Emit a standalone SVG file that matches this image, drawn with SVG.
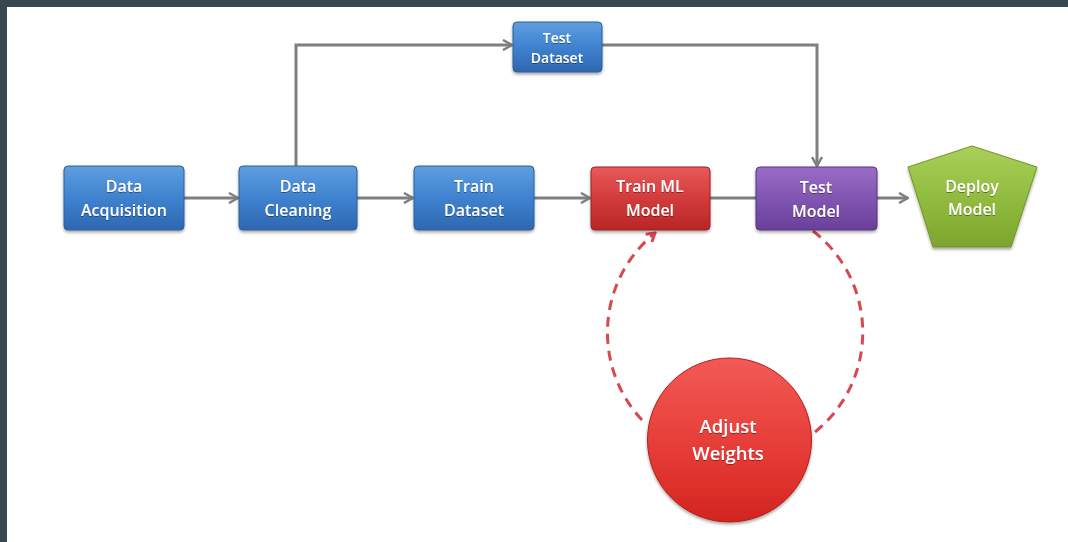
<svg xmlns="http://www.w3.org/2000/svg" width="1068" height="542" viewBox="0 0 1068 542">
<defs>
<linearGradient id="gBlue" x1="0" y1="0" x2="0" y2="1"><stop offset="0" stop-color="#5E9EE0"/><stop offset="0.5" stop-color="#3F82CF"/><stop offset="1" stop-color="#2D67B0"/></linearGradient>
<linearGradient id="gRed" x1="0" y1="0" x2="0" y2="1"><stop offset="0" stop-color="#E85A5A"/><stop offset="0.5" stop-color="#D33B3B"/><stop offset="1" stop-color="#B82626"/></linearGradient>
<linearGradient id="gPurple" x1="0" y1="0" x2="0" y2="1"><stop offset="0" stop-color="#9A6CC6"/><stop offset="0.5" stop-color="#8155B2"/><stop offset="1" stop-color="#68409A"/></linearGradient>
<linearGradient id="gGreen" x1="0" y1="0" x2="0" y2="1"><stop offset="0" stop-color="#A9D05A"/><stop offset="0.5" stop-color="#92BC40"/><stop offset="1" stop-color="#7DA52E"/></linearGradient>
<linearGradient id="gCircle" x1="0" y1="0" x2="0" y2="1"><stop offset="0" stop-color="#F25A55"/><stop offset="0.6" stop-color="#E53A35"/><stop offset="1" stop-color="#D2241E"/></linearGradient>
<filter id="sh" x="-20%" y="-20%" width="140%" height="150%"><feDropShadow dx="0" dy="2" stdDeviation="1.5" flood-color="#000" flood-opacity="0.35"/></filter>
<filter id="tsh" x="-10%" y="-10%" width="120%" height="130%"><feDropShadow dx="0" dy="1" stdDeviation="0.6" flood-color="#000" flood-opacity="0.4"/></filter>
<marker id="arr" viewBox="0 0 12 12" refX="11" refY="6" markerWidth="12" markerHeight="12" markerUnits="userSpaceOnUse" orient="auto"><path d="M2,1 L11,6 L2,11" fill="none" stroke="#7F7F7F" stroke-width="2.5"/></marker>
<marker id="arrR" viewBox="0 0 12 12" refX="10" refY="6" markerWidth="12" markerHeight="12" markerUnits="userSpaceOnUse" orient="auto"><path d="M2,1 L10,6 L2,11" fill="none" stroke="#D9474F" stroke-width="3"/></marker>
</defs>
<style>
.bl{fill:url(#gBlue);stroke:#2F5E98;stroke-width:1;filter:url(#sh)}
.rd{fill:url(#gRed);stroke:#9A2020;stroke-width:1;filter:url(#sh)}
.pu{fill:url(#gPurple);stroke:#56347F;stroke-width:1;filter:url(#sh)}
.t{font-family:"Open Sans","Liberation Sans",sans-serif;font-size:16px;font-weight:600;fill:#fff;text-anchor:middle;filter:url(#tsh)}
.ts{font-size:14px}
.tl{font-size:18.5px}
.c{fill:none;stroke:#7F7F7F;stroke-width:3}
.d{fill:none;stroke:#D9474F;stroke-width:3;stroke-dasharray:10 7}
</style>
<rect x="0" y="0" width="1068" height="542" fill="#fff"/>
<rect x="0" y="0" width="1068" height="7" fill="#37474F"/>
<rect x="0" y="0" width="7" height="542" fill="#37474F"/>

<g id="connectors">
<line class="c" x1="184" y1="198" x2="238" y2="198" marker-end="url(#arr)"/>
<line class="c" x1="357" y1="198" x2="413" y2="198" marker-end="url(#arr)"/>
<line class="c" x1="534" y1="198" x2="590" y2="198" marker-end="url(#arr)"/>
<line class="c" x1="710" y1="198" x2="756" y2="198"/>
<line class="c" x1="877" y1="198" x2="908" y2="198" marker-end="url(#arr)"/>
<polyline class="c" points="296,166 296,45 512,45" marker-end="url(#arr)"/>
<polyline class="c" points="602,45 817,45 817,166" marker-end="url(#arr)"/>
<path class="d" d="M642,420 A128,128 0 0 1 655,233" marker-end="url(#arrR)"/>
<path class="d" d="M813,231 A128,128 0 0 1 815,432"/>
</g>

<g id="data-acquisition">
<rect class="bl" x="64" y="166" width="120" height="64" rx="4"/>
<text class="t" x="124" y="192">Data</text>
<text class="t" x="124" y="216">Acquisition</text>
</g>
<g id="data-cleaning">
<rect class="bl" x="239" y="166" width="118" height="64" rx="4"/>
<text class="t" x="298" y="192">Data</text>
<text class="t" x="298" y="216">Cleaning</text>
</g>
<g id="train-dataset">
<rect class="bl" x="414" y="166" width="120" height="64" rx="4"/>
<text class="t" x="474" y="192">Train</text>
<text class="t" x="474" y="216">Dataset</text>
</g>
<g id="train-ml-model">
<rect class="rd" x="591" y="167" width="119" height="63" rx="4"/>
<text class="t" x="650" y="192">Train ML</text>
<text class="t" x="650" y="216">Model</text>
</g>
<g id="test-model">
<rect class="pu" x="756" y="167" width="121" height="63" rx="4"/>
<text class="t" x="816" y="193">Test</text>
<text class="t" x="816" y="217">Model</text>
</g>
<g id="test-dataset">
<rect class="bl" x="513" y="22" width="89" height="50" rx="4"/>
<text class="t ts" x="557" y="43">Test</text>
<text class="t ts" x="557" y="63">Dataset</text>
</g>
<g id="deploy-model">
<polygon points="972,146 1037,167 1011,247 933,247 908,167" fill="url(#gGreen)" stroke="#6E9528" stroke-width="1" filter="url(#sh)"/>
<text class="t" x="972" y="192">Deploy</text>
<text class="t" x="972" y="215">Model</text>
</g>
<g id="adjust-weights">
<circle cx="729.5" cy="440" r="82" fill="url(#gCircle)" stroke="#B51E1A" stroke-width="1" filter="url(#sh)"/>
<text class="t tl" x="728" y="433">Adjust</text>
<text class="t tl" x="728" y="460">Weights</text>
</g>
</svg>
